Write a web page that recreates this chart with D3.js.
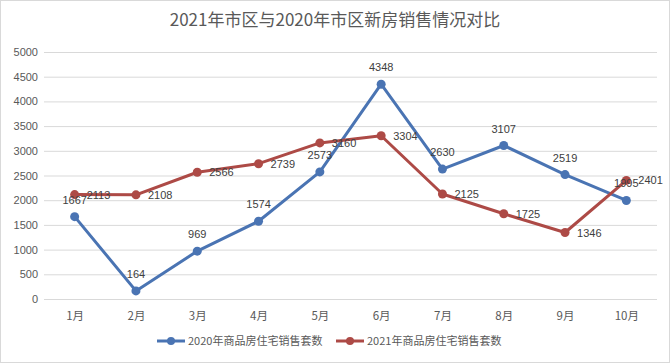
<!DOCTYPE html>
<html><head><meta charset="utf-8">
<script src="https://cdn.jsdelivr.net/npm/d3@7"></script>
<style>body{margin:0;background:#fff;}svg{display:block;}</style>
</head><body>
<svg id="c" width="670" height="363"></svg>
<script>
const title = "2021年市区与2020年市区新房销售情况对比";
const months = ["1月","2月","3月","4月","5月","6月","7月","8月","9月","10月"];
const series2020 = [1667,164,969,1574,2573,4348,2630,3107,2519,1995];
const series2021 = [2113,2108,2566,2739,3160,3304,2125,1725,1346,2401];
const seriesNames = ["2020年商品房住宅销售套数","2021年商品房住宅销售套数"];
const yTicks = [0,500,1000,1500,2000,2500,3000,3500,4000,4500,5000];
const colors = ["#4a74b3","#ad4a46"];

const svg = d3.select("#c");
const W=670,H=363;
const font = "'Liberation Sans','Noto Sans CJK SC',sans-serif";
svg.append("rect").attr("x",0.5).attr("y",0.5).attr("width",W-1).attr("height",H-1).attr("fill","#fff").attr("stroke","#d9d9d9");

const m={l:44,r:13,t:52,b:64};
const x=d3.scalePoint().domain(months).range([m.l,W-m.r]).padding(0.5);
const y=d3.scaleLinear().domain([0,5000]).range([299,52]);

svg.append("text").attr("x",W/2).attr("y",26).attr("text-anchor","middle")
 .attr("font-family","'Noto Sans CJK SC',sans-serif").attr("font-size",17).attr("fill","#595959").text(title);

const g=svg.append("g");
const yAxis=d3.axisLeft(y).tickValues(yTicks).tickFormat(d3.format("d")).tickSize(-(W-m.l-m.r)).tickPadding(6);
const ya=g.append("g").attr("transform",`translate(${m.l},0)`).call(yAxis);
ya.select(".domain").remove();
ya.selectAll(".tick line").attr("stroke","#d9d9d9");
ya.selectAll(".tick text").attr("font-family",font).attr("font-size",11).attr("fill","#595959");

const xAxis=d3.axisBottom(x).tickSize(0).tickPadding(13);
const xa=g.append("g").attr("transform",`translate(0,299)`).call(xAxis);
xa.select(".domain").remove();
xa.selectAll(".tick text").attr("font-family","'Noto Sans CJK SC',sans-serif").attr("font-size",11.5).attr("fill","#595959");

const line=d3.line().x((d,i)=>x(months[i])).y(d=>y(d));
[series2020,series2021].forEach((s,k)=>{
  g.append("path").datum(s).attr("d",line).attr("fill","none").attr("stroke",colors[k]).attr("stroke-width",3).attr("stroke-linejoin","round");
  g.selectAll(null).data(s).enter().append("circle").attr("cx",(d,i)=>x(months[i])).attr("cy",d=>y(d)).attr("r",4.5).attr("fill",colors[k]);
});
// labels
g.selectAll(null).data(series2020).enter().append("text")
 .attr("x",(d,i)=>x(months[i])).attr("y",d=>y(d)-13).attr("text-anchor","middle")
 .attr("font-family",font).attr("font-size",11).attr("fill","#404040").text(d=>d);
g.selectAll(null).data(series2021).enter().append("text")
 .attr("x",(d,i)=>x(months[i])+12).attr("y",d=>y(d)+4).attr("text-anchor","start")
 .attr("font-family",font).attr("font-size",11).attr("fill","#404040").text(d=>d);

// legend
const lg=svg.append("g");
const legX=[157,336];
seriesNames.forEach((n,k)=>{
  const gx=legX[k], gy=341;
  lg.append("line").attr("x1",gx).attr("x2",gx+28).attr("y1",gy).attr("y2",gy).attr("stroke",colors[k]).attr("stroke-width",3);
  lg.append("circle").attr("cx",gx+14).attr("cy",gy).attr("r",4).attr("fill",colors[k]);
  lg.append("text").attr("x",gx+31).attr("y",gy+4).attr("font-family","'Noto Sans CJK SC',sans-serif").attr("font-size",11).attr("fill","#595959").text(n);
});
</script>
</body></html>
